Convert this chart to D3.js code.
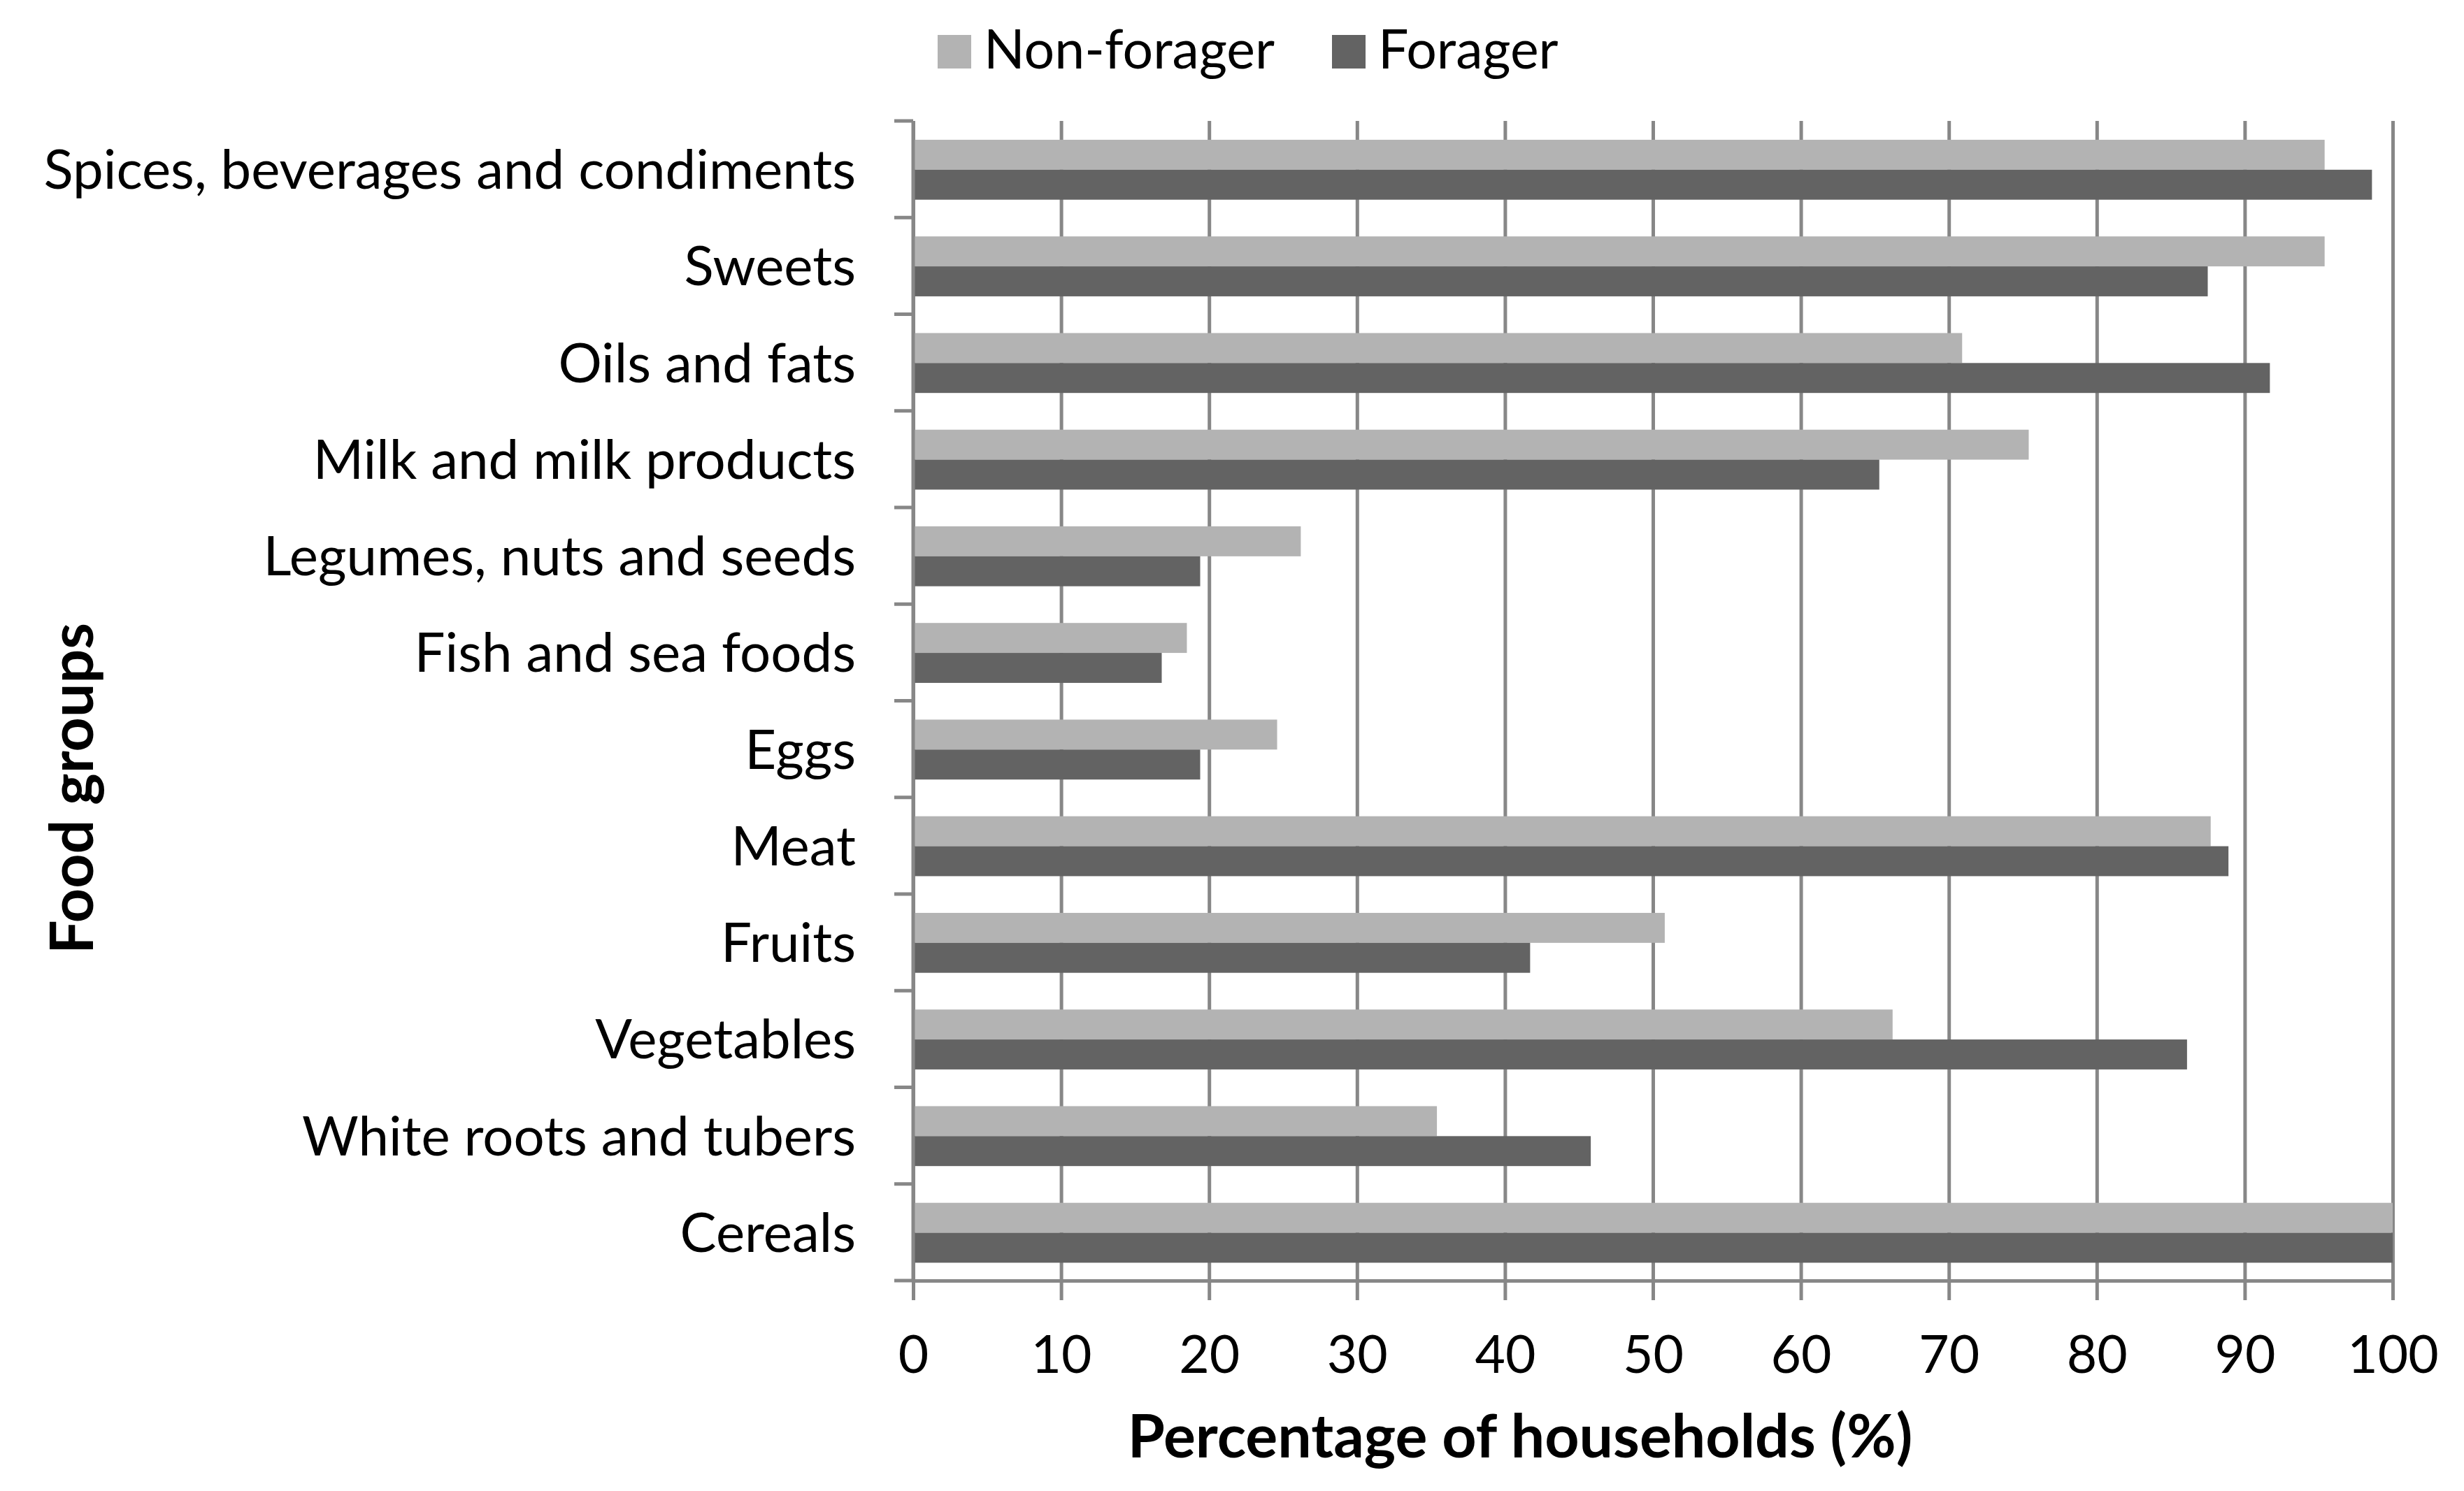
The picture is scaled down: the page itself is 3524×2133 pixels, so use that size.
<!DOCTYPE html>
<html>
<head>
<meta charset="utf-8">
<script src="https://cdn.jsdelivr.net/npm/d3@7"></script>
<style>
    body { margin: 0; background: #ffffff; }
    svg { display: block; font-family: Lato, "Open Sans", sans-serif; }
</style>
</head>
<body>
<svg></svg>
<script>
// Food groups, top to bottom as they appear on the chart
const categories = [
    'Spices, beverages and condiments',
    'Sweets',
    'Oils and fats',
    'Milk and milk products',
    'Legumes, nuts and seeds',
    'Fish and sea foods',
    'Eggs',
    'Meat',
    'Fruits',
    'Vegetables',
    'White roots and tubers',
    'Cereals'
];
const seriesNames = ['Non-forager', 'Forager'];
const nonForager = [95.4, 95.4, 70.9, 75.4, 26.2, 18.5, 24.6, 87.7, 50.8, 66.2, 35.4, 100];
const forager = [98.6, 87.5, 91.7, 65.3, 19.4, 16.8, 19.4, 88.9, 41.7, 86.1, 45.8, 100];
const xTicks = [0, 10, 20, 30, 40, 50, 60, 70, 80, 90, 100];
const seriesColors = ['#b3b3b3', '#636363'];

class BarChart {
    constructor() {
        this.svg = d3.select('svg');
        this.svgWidth = 3524;
        this.svgHeight = 2133;
        this.margin = { top: 173, right: 102, bottom: 301, left: 1306 }; // plot area edges
        this.innerWidth;
        this.innerHeight;
        this.gridColor = '#878787';
        this.lineWidth = 5;
        this.labelSize = 78;
        this.tickSize = 75;
    }

    draw = () => {
        this.svg.attr('width', this.svgWidth).attr('height', this.svgHeight);
        this.innerWidth = this.svgWidth - this.margin.left - this.margin.right;
        this.innerHeight = this.svgHeight - this.margin.top - this.margin.bottom;

        // one row per category, two bars (series) inside each row
        this.data = categories.map((c, i) => ({ name: c, values: [nonForager[i], forager[i]] }));

        this.xScale = d3.scaleLinear().domain([0, 100]).range([0, this.innerWidth]);
        this.yScale = d3.scaleBand().domain(categories).range([0, this.innerHeight]);
        this.subScale = d3.scaleBand().domain(d3.range(seriesNames.length))
            .range([this.yScale.bandwidth() * 0.195, this.yScale.bandwidth() * 0.815]);

        this.plot = this.svg.append('g')
            .attr('transform', `translate(${this.margin.left},${this.margin.top})`);

        this.drawGrid();
        this.drawBars();
        this.drawYAxis();
        this.drawXAxis();
        this.drawLegend();
        this.drawTitles();
    }

    drawGrid = () => {
        // vertical gridlines at every x tick
        const grid = this.plot.append('g')
            .call(d3.axisBottom(this.xScale).tickValues(xTicks).tickSize(this.innerHeight).tickFormat(''));
        grid.select('.domain').remove();
        grid.selectAll('line').attr('stroke', this.gridColor).attr('stroke-width', this.lineWidth);
    }

    drawBars = () => {
        const rows = this.plot.selectAll('.row')
            .data(this.data)
            .join('g')
            .attr('class', 'row')
            .attr('transform', d => `translate(0,${this.yScale(d.name)})`);

        rows.selectAll('rect')
            .data(d => d.values)
            .join('rect')
            .attr('x', 0)
            .attr('y', (d, i) => this.subScale(i))
            .attr('width', d => this.xScale(d))
            .attr('height', this.subScale.bandwidth())
            .attr('fill', (d, i) => seriesColors[i]);
    }

    drawYAxis = () => {
        // labels only, ticks go on the band edges like the original
        const yAxis = this.plot.append('g')
            .call(d3.axisLeft(this.yScale).tickSize(0).tickPadding(82))
            .attr('font-family', null);
        yAxis.select('.domain').remove();
        yAxis.selectAll('text')
            .attr('font-size', this.labelSize)
            .attr('fill', '#000')
            .attr('dy', '0.36em');

        const edges = categories.map(c => this.yScale(c)).concat([this.innerHeight]);
        this.plot.append('g').selectAll('line')
            .data(edges)
            .join('line')
            .attr('x1', -27).attr('x2', 0)
            .attr('y1', d => d).attr('y2', d => d)
            .attr('stroke', this.gridColor).attr('stroke-width', this.lineWidth);

        this.plot.append('line')
            .attr('x1', 0).attr('x2', 0)
            .attr('y1', 0).attr('y2', this.innerHeight)
            .attr('stroke', this.gridColor).attr('stroke-width', this.lineWidth);
    }

    drawXAxis = () => {
        const xAxis = this.plot.append('g')
            .attr('transform', `translate(0,${this.innerHeight})`)
            .call(d3.axisBottom(this.xScale).tickValues(xTicks).tickSize(28).tickSizeOuter(0))
            .attr('font-family', null);
        xAxis.select('.domain').attr('stroke', this.gridColor).attr('stroke-width', this.lineWidth);
        xAxis.selectAll('line').attr('stroke', this.gridColor).attr('stroke-width', this.lineWidth);
        xAxis.selectAll('text')
            .attr('font-size', this.tickSize)
            .attr('fill', '#000')
            .attr('y', 132)
            .attr('dy', 0);
    }

    drawLegend = () => {
        const legendX = [1341, 1905];
        const legend = this.svg.append('g').selectAll('g')
            .data(seriesNames)
            .join('g')
            .attr('transform', (d, i) => `translate(${legendX[i]},0)`);
        legend.append('rect')
            .attr('y', 50).attr('width', 48).attr('height', 48)
            .attr('fill', (d, i) => seriesColors[i]);
        legend.append('text')
            .attr('x', 66).attr('y', 98)
            .attr('font-size', 77)
            .text(d => d);
    }

    drawTitles = () => {
        this.svg.append('text')
            .attr('x', 2174).attr('y', 2085)
            .attr('text-anchor', 'middle')
            .attr('font-size', 86)
            .attr('font-weight', 'bold')
            .text('Percentage of households (%)');

        this.svg.append('text')
            .attr('transform', 'translate(133,1128) rotate(-90)')
            .attr('text-anchor', 'middle')
            .attr('font-size', 86)
            .attr('font-weight', 'bold')
            .text('Food groups');
    }
}

const chart = new BarChart();
chart.draw();
</script>
</body>
</html>
